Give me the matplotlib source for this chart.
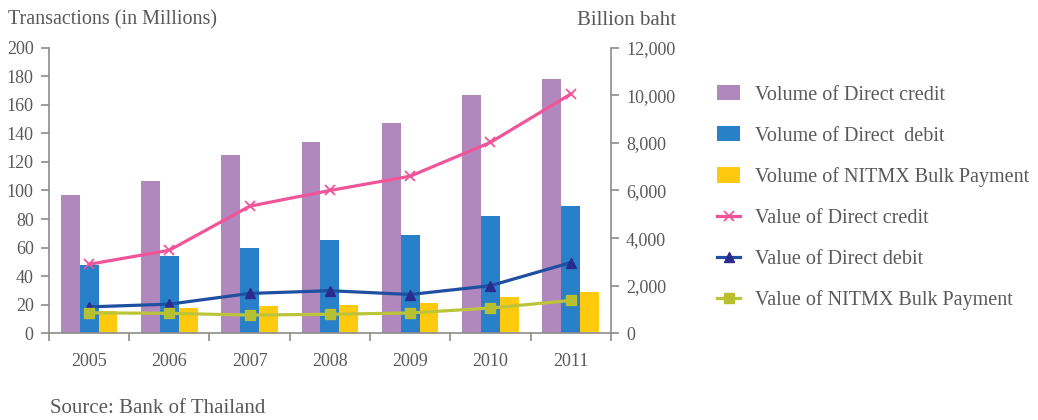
import numpy as np
import matplotlib
matplotlib.use("Agg")
import matplotlib.pyplot as plt
from matplotlib.ticker import FuncFormatter

plt.rcParams['font.family'] = ['Liberation Serif', 'DejaVu Serif']

# yearly figures
years = ['2005', '2006', '2007', '2008', '2009', '2010', '2011']

# volumes, millions of transactions (left axis)
vol_credit = [96.5, 106.3, 125.0, 134.2, 147.4, 167.0, 178.2]
vol_debit = [47.7, 54.0, 59.5, 65.1, 68.6, 81.9, 88.8]
vol_nitmx = [15.6, 17.7, 19.0, 19.8, 21.1, 25.5, 29.0]

# values, billion baht (right axis)
val_credit = [2900, 3490, 5340, 6000, 6600, 8020, 10050]
val_debit = [1110, 1225, 1675, 1790, 1630, 2000, 2970]
val_nitmx = [860, 840, 765, 800, 855, 1060, 1380]

txt = '#595959'
axis_col = '#8c8c8c'

fig = plt.figure(figsize=(10.38, 4.2), dpi=100)
ax = fig.add_axes([0.0472, 0.2064, 0.5412, 0.6801])
ax2 = ax.twinx()

x = np.arange(len(years))
w = 0.235
b1 = ax.bar(x - w, vol_credit, w, color='#b088be', label='Volume of Direct credit')
b2 = ax.bar(x, vol_debit, w, color='#2880c8', label='Volume of Direct  debit')
b3 = ax.bar(x + w, vol_nitmx, w, color='#ffc90e', label='Volume of NITMX Bulk Payment')

l1, = ax2.plot(x, val_credit, color='#f0559a', lw=2.3, marker='x', ms=6.5, mew=1.3,
               label='Value of Direct credit')
l2, = ax2.plot(x, val_debit, color='#1f4fa0', lw=2.3, marker='^', ms=6.5,
               mfc='#2b2b8f', mec='#2b2b8f', label='Value of Direct debit')
l3, = ax2.plot(x, val_nitmx, color='#bcc43a', lw=2.3, marker='s', ms=6.5,
               mfc='#b8c030', mec='#b8c030', label='Value of NITMX Bulk Payment')

ax.set_xlim(-0.5, len(years) - 0.5)
ax.set_ylim(0, 200)
ax.set_yticks(range(0, 201, 20))
ax2.set_ylim(0, 12000)
ax2.set_yticks(range(0, 12001, 2000))
ax2.yaxis.set_major_formatter(FuncFormatter(lambda v, p: f'{int(v):,}'))

# year labels centred, tick marks at category boundaries
ax.set_xticks(x)
ax.set_xticklabels(years)
ax.tick_params(axis='x', length=0, pad=14)
ax.set_xticks(np.arange(-0.5, len(years) + 0.5, 1), minor=True)
ax.tick_params(axis='x', which='minor', length=6, color=axis_col, width=1.2)

for a in (ax, ax2):
    for s in a.spines.values():
        s.set_visible(False)
    a.tick_params(axis='y', colors=axis_col, length=6, width=1.2, labelsize=13,
                  labelcolor=txt, pad=5)
ax.tick_params(axis='x', labelsize=13, labelcolor=txt)
ax.spines['left'].set_visible(True)
ax.spines['bottom'].set_visible(True)
ax2.spines['right'].set_visible(True)
for s in (ax.spines['left'], ax.spines['bottom'], ax2.spines['right']):
    s.set_color(axis_col)
    s.set_linewidth(1.2)

fig.text(0.008, 0.952, 'Transactions (in Millions)', fontsize=14.5, color=txt, va='center')
fig.text(0.556, 0.952, 'Billion baht', fontsize=15, color=txt, va='center')
fig.text(0.048, 0.028, 'Source: Bank of Thailand', fontsize=15, color=txt, va='center')

leg = fig.legend(handles=[b1, b2, b3, l1, l2, l3], loc='upper left',
                 bbox_to_anchor=(0.691, 0.798), frameon=False, fontsize=14.5,
                 borderpad=0, borderaxespad=0,
                 handlelength=1.15, handleheight=0.8, handletextpad=0.7,
                 labelspacing=1.06, labelcolor=txt)

fig.savefig('out.png', dpi=100)
